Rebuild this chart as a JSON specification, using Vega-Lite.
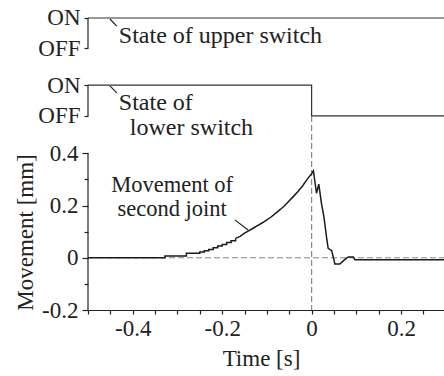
{
  "$schema": "https://vega.github.io/schema/vega-lite/v6.json",
  "width": 356,
  "height": 300,
  "autosize": {"type": "none"},
  "padding": {"left": 88, "top": 10, "right": 0, "bottom": 66},
  "background": "white",
  "config": {
    "view": {"stroke": null},
    "font": "Liberation Serif, Times New Roman, serif"
  },
  "datasets": {
    "guides": [
      {"t": -0.5, "t2": 0.296, "mm": 0, "mm2": 0},
      {"t": 0, "t2": 0, "mm": 0.543, "mm2": -0.2}
    ],
    "rules": [
      {"t": -0.5, "t2": -0.5, "mm": -0.2, "mm2": 0.4},
      {"t": -0.5, "t2": -0.5, "mm": 0.802, "mm2": 0.918},
      {"t": -0.5, "t2": -0.5, "mm": 0.543, "mm2": 0.661},
      {"t": -0.451, "t2": -0.4356, "mm": 0.914, "mm2": 0.887},
      {"t": -0.451, "t2": -0.4356, "mm": 0.658, "mm2": 0.631},
      {"t": -0.1716, "t2": -0.142, "mm": 0.145, "mm2": 0.106}
    ],
    "switches": [
      {"sig": "upper", "o": 1, "t": -0.5, "mm": 0.918},
      {"sig": "upper", "o": 2, "t": 0.296, "mm": 0.918},
      {"sig": "lower", "o": 1, "t": -0.5, "mm": 0.661},
      {"sig": "lower", "o": 2, "t": 0.0, "mm": 0.661},
      {"sig": "lower", "o": 3, "t": 0.0, "mm": 0.543},
      {"sig": "lower", "o": 4, "t": 0.296, "mm": 0.543}
    ],
    "curve": [
      {"part": "step", "t": -0.5, "mm": 0},
      {"part": "step", "t": -0.328, "mm": 0.007},
      {"part": "step", "t": -0.28, "mm": 0.017},
      {"part": "step", "t": -0.25, "mm": 0.022},
      {"part": "step", "t": -0.24, "mm": 0.027},
      {"part": "step", "t": -0.23, "mm": 0.032},
      {"part": "step", "t": -0.22, "mm": 0.038},
      {"part": "step", "t": -0.21, "mm": 0.045},
      {"part": "step", "t": -0.2, "mm": 0.051},
      {"part": "step", "t": -0.19, "mm": 0.058},
      {"part": "step", "t": -0.18, "mm": 0.065},
      {"part": "step", "t": -0.17, "mm": 0.074},
      {"part": "smooth", "t": -0.17, "mm": 0.074},
      {"part": "smooth", "t": -0.16, "mm": 0.082},
      {"part": "smooth", "t": -0.15, "mm": 0.094},
      {"part": "smooth", "t": -0.14, "mm": 0.104},
      {"part": "smooth", "t": -0.13, "mm": 0.114},
      {"part": "smooth", "t": -0.12, "mm": 0.124},
      {"part": "smooth", "t": -0.11, "mm": 0.134},
      {"part": "smooth", "t": -0.1, "mm": 0.145},
      {"part": "smooth", "t": -0.09, "mm": 0.157},
      {"part": "smooth", "t": -0.08, "mm": 0.171},
      {"part": "smooth", "t": -0.07, "mm": 0.185},
      {"part": "smooth", "t": -0.06, "mm": 0.2},
      {"part": "smooth", "t": -0.05, "mm": 0.218},
      {"part": "smooth", "t": -0.04, "mm": 0.236},
      {"part": "smooth", "t": -0.03, "mm": 0.255},
      {"part": "smooth", "t": -0.02, "mm": 0.276},
      {"part": "smooth", "t": -0.01, "mm": 0.3},
      {"part": "smooth", "t": 0.0, "mm": 0.322},
      {"part": "smooth", "t": 0.004, "mm": 0.333},
      {"part": "smooth", "t": 0.011, "mm": 0.247},
      {"part": "smooth", "t": 0.016, "mm": 0.282},
      {"part": "smooth", "t": 0.022, "mm": 0.208},
      {"part": "smooth", "t": 0.0275, "mm": 0.157},
      {"part": "smooth", "t": 0.034, "mm": 0.07},
      {"part": "smooth", "t": 0.037, "mm": 0.036},
      {"part": "smooth", "t": 0.045, "mm": 0.027},
      {"part": "smooth", "t": 0.052, "mm": -0.024},
      {"part": "smooth", "t": 0.063, "mm": -0.024},
      {"part": "smooth", "t": 0.0745, "mm": -0.006},
      {"part": "smooth", "t": 0.082, "mm": 0.003},
      {"part": "smooth", "t": 0.093, "mm": 0.003},
      {"part": "smooth", "t": 0.097, "mm": -0.008},
      {"part": "smooth", "t": 0.296, "mm": -0.008}
    ],
    "labelsLeft": [
      {"t": -0.4311, "mm": 0.821, "text": "State of upper switch"},
      {"t": -0.4311, "mm": 0.566, "text": "State of"},
      {"t": -0.4065, "mm": 0.47, "text": "lower switch"}
    ],
    "labelsCenter": [
      {"t": -0.312, "mm": 0.252, "text": "Movement of"},
      {"t": -0.312, "mm": 0.158, "text": "second joint"}
    ]
  },
  "encoding": {
    "x": {
      "field": "t",
      "type": "quantitative",
      "scale": {"domain": [-0.5, 0.296], "nice": false, "zero": false},
      "axis": {
        "values": [-0.5, -0.45, -0.4, -0.35, -0.3, -0.25, -0.2, -0.15, -0.1, -0.05, 0, 0.05, 0.1, 0.15, 0.2, 0.25],
        "labelExpr": "datum.value == -0.4 ? '-0.4' : datum.value == -0.2 ? '-0.2' : datum.value == 0 ? '0' : datum.value == 0.2 ? '0.2' : ''",
        "grid": false,
        "tickSize": 4,
        "tickColor": "#222",
        "tickWidth": 1.2,
        "domainColor": "#222",
        "domainWidth": 1.2,
        "labelFont": "Liberation Serif, Times New Roman, serif",
        "labelFontSize": 23,
        "labelColor": "#222",
        "labelPadding": 3,
        "labelFlush": false,
        "labelOverlap": false,
        "title": "Time [s]",
        "titleFont": "Liberation Serif, Times New Roman, serif",
        "titleFontSize": 23,
        "titleFontWeight": "normal",
        "titleColor": "#222",
        "titleX": 173,
        "titleY": 37
      }
    },
    "y": {
      "field": "mm",
      "type": "quantitative",
      "scale": {"domain": [-0.2, 0.9486], "nice": false, "zero": false},
      "axis": {
        "values": [-0.2, -0.1, 0, 0.1, 0.2, 0.3, 0.4, 0.543, 0.661, 0.802, 0.918],
        "labelExpr": "datum.value == 0.918 || datum.value == 0.661 ? 'ON' : (datum.value == 0.802 || datum.value == 0.543) ? 'OFF' : datum.value == 0.4 ? '0.4' : datum.value == 0.2 ? '0.2' : datum.value == 0 ? '0' : datum.value == -0.2 ? '-0.2' : ''",
        "grid": false,
        "domain": false,
        "tickSize": {"condition": {"test": "datum.value == 0.4 || datum.value == 0.2 || datum.value == 0 || datum.value == -0.2", "value": 6}, "value": 4},
        "tickColor": "#222",
        "tickWidth": 1.2,
        "labelFont": "Liberation Serif, Times New Roman, serif",
        "labelFontSize": 23,
        "labelColor": "#222",
        "labelPadding": 4,
        "labelOverlap": false,
        "labelFlush": false,
        "title": "Movement [mm]",
        "titleFont": "Liberation Serif, Times New Roman, serif",
        "titleFontSize": 23,
        "titleFontWeight": "normal",
        "titleColor": "#222",
        "titleX": -51,
        "titleY": 222
      }
    }
  },
  "layer": [
    {
      "data": {"name": "guides"},
      "mark": {"type": "rule", "color": "#888", "strokeWidth": 1.2, "strokeDash": [6, 3]},
      "encoding": {
        "x2": {"field": "t2"},
        "y2": {"field": "mm2"}
      }
    },
    {
      "data": {"name": "rules"},
      "mark": {"type": "rule", "color": "#222", "strokeWidth": 1.2},
      "encoding": {
        "x2": {"field": "t2"},
        "y2": {"field": "mm2"}
      }
    },
    {
      "data": {"name": "switches"},
      "mark": {"type": "line", "color": "#333", "strokeWidth": 1.2},
      "encoding": {
        "detail": {"field": "sig"},
        "order": {"field": "o", "type": "quantitative"}
      }
    },
    {
      "data": {"name": "curve"},
      "transform": [{"filter": "datum.part == 'step'"}],
      "mark": {"type": "line", "color": "#1a1a1a", "strokeWidth": 1.5, "interpolate": "step-after"},
      "encoding": {}
    },
    {
      "data": {"name": "curve"},
      "transform": [{"filter": "datum.part == 'smooth'"}],
      "mark": {"type": "line", "color": "#1a1a1a", "strokeWidth": 1.5},
      "encoding": {}
    },
    {
      "data": {"name": "labelsLeft"},
      "mark": {"type": "text", "align": "left", "baseline": "alphabetic", "font": "Liberation Serif, Times New Roman, serif", "fontSize": 24, "color": "#222"},
      "encoding": {"text": {"field": "text"}}
    },
    {
      "data": {"name": "labelsCenter"},
      "mark": {"type": "text", "align": "center", "baseline": "alphabetic", "font": "Liberation Serif, Times New Roman, serif", "fontSize": 22.5, "color": "#222"},
      "encoding": {"text": {"field": "text"}}
    }
  ]
}
